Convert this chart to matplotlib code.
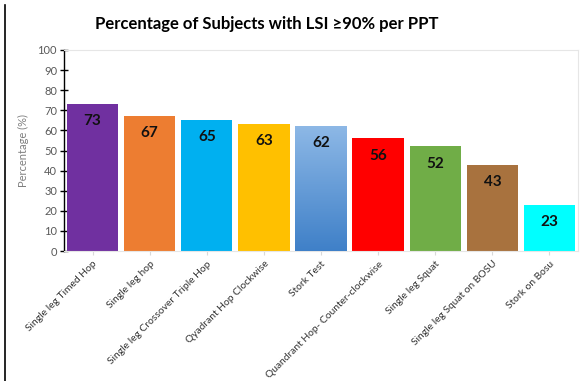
import matplotlib
matplotlib.use("Agg")
import matplotlib.pyplot as plt
import numpy as np
from matplotlib.lines import Line2D

plt.rcParams["font.family"] = ["Lato", "DejaVu Sans"]

# data
tests = [
    "Single leg Timed Hop",
    "Single leg hop",
    "Single leg Crossover Triple Hop",
    "Qyadrant Hop Clockwise",
    "Stork Test",
    "Quandrant Hop- Counter-clockwise",
    "Single leg Squat",
    "Single leg Squat on BOSU",
    "Stork on Bosu",
]
percentages = [73, 67, 65, 63, 62, 56, 52, 43, 23]
bar_colors = ["#7030A0", "#ED7D31", "#00B0F0", "#FFC000", "#5B9BD5",
              "#FF0000", "#70AD47", "#A8723E", "#00FFFF"]

fig = plt.figure(figsize=(5.83, 3.81), dpi=100)
ax = fig.add_axes([64 / 583, 1 - 251 / 381, 514 / 583, 201 / 381])

x = np.arange(len(tests))
bars = ax.bar(x, percentages, width=0.9, color=bar_colors, zorder=2)

# gradient fill on the Stork Test bar
stork = bars[4]
grad = np.linspace(0, 1, 256).reshape(-1, 1)
cmap = matplotlib.colors.LinearSegmentedColormap.from_list("blu", ["#3F80C8", "#8DB8E6"])
bx, by = stork.get_x(), stork.get_y()
img = ax.imshow(grad, cmap=cmap, aspect="auto", origin="lower",
                extent=[bx, bx + stork.get_width(), by, by + stork.get_height()], zorder=3)
img.set_clip_path(stork)

for xi, v in zip(x, percentages):
    ax.text(xi, v - 8.5, str(v), ha="center", va="center", fontsize=11,
            fontweight="bold", color="#111111", zorder=4)

ax.set_xlim(-0.5, len(tests) - 0.5)
ax.set_ylim(0, 100)
ax.set_yticks(range(0, 101, 10))
ax.tick_params(axis="y", direction="inout", length=6, width=1, color="black",
               labelsize=8, labelcolor="#595959", pad=2)
ax.set_xticks(x)
ax.set_xticklabels(tests, rotation=45, ha="right", rotation_mode="anchor",
                   fontsize=7.4, color="#333333")
ax.tick_params(axis="x", length=3, color="#d9d9d9", pad=3)
ax.set_ylabel("Percentage (%)", fontsize=8, color="#7f7f7f", labelpad=6)

for side in ["top", "right", "bottom"]:
    ax.spines[side].set_color("#e6e6e6")
    ax.spines[side].set_linewidth(0.8)
ax.spines["left"].set_color("black")
ax.spines["left"].set_linewidth(1)

fig.text(0.458, 0.937, "Percentage of Subjects with LSI \u226590% per PPT",
         ha="center", va="center", fontsize=12, fontweight="bold", color="black")

# left border line
fig.add_artist(Line2D([5 / 583, 5 / 583], [0, 1 - 5 / 381], color="black", lw=1.2))

fig.savefig("out.png", dpi=100)
